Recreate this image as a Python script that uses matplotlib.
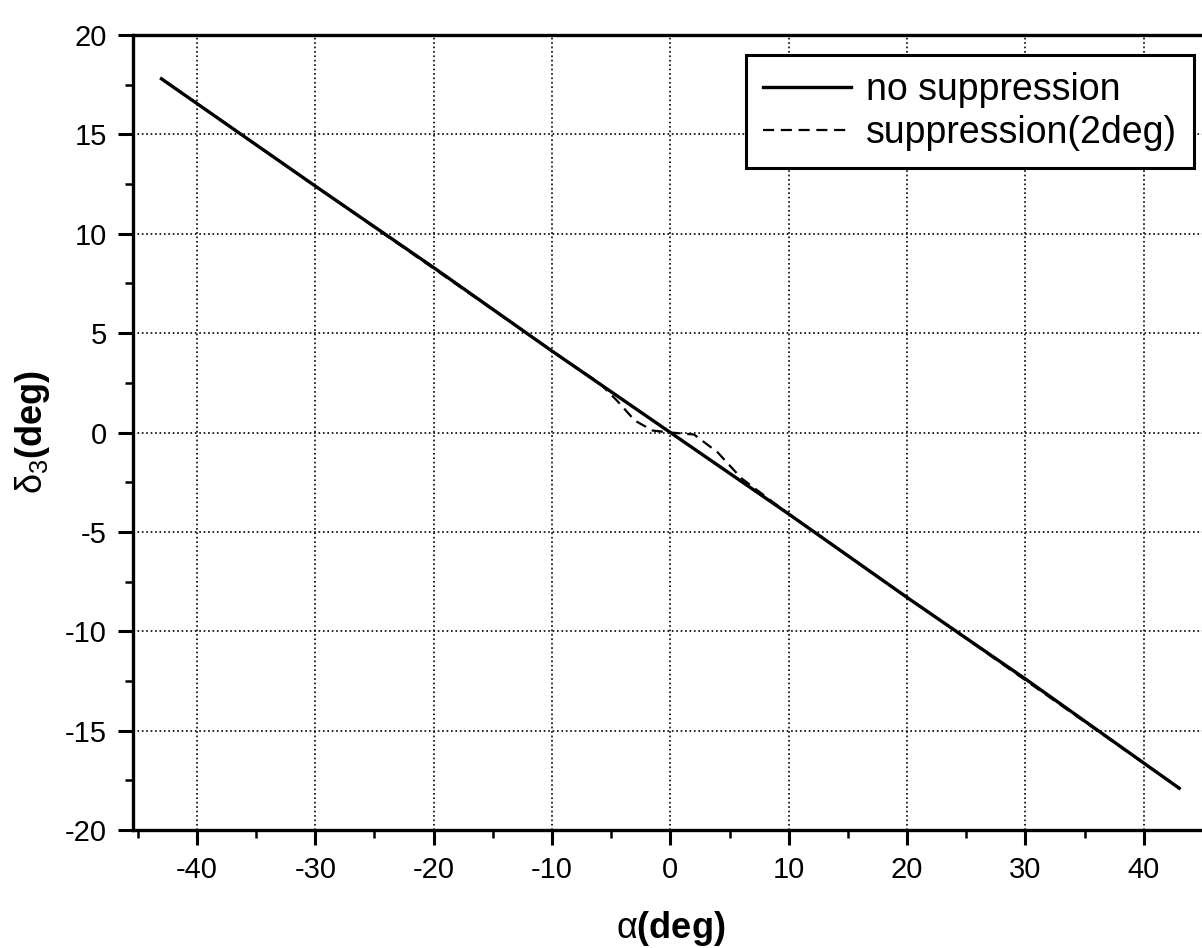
import numpy as np
import matplotlib
matplotlib.use("Agg")
import matplotlib.pyplot as plt
import matplotlib.ticker as tick

plt.rcParams['font.family'] = ['Liberation Sans', 'DejaVu Sans']
plt.rcParams['axes.unicode_minus'] = False
plt.rcParams['mathtext.fontset'] = 'custom'
plt.rcParams['mathtext.rm'] = 'Liberation Sans'
plt.rcParams['mathtext.it'] = 'Liberation Sans'

# no suppression: straight line
x_nosup = [-43, -30, -20, -10, 0, 10, 20, 30, 43]
y_nosup = [17.8, 12.4, 8.3, 4.1, 0.0, -4.1, -8.3, -12.4, -17.9]

# suppression(2deg): follows the solid line except near zero
x_sup = [-43, -10, -6, -4.5, -3, -1.5, 0, 2, 4, 6, 10, 43]
y_sup = [17.8, 4.1, 2.5, 1.6, 0.6, 0.1, 0.0, -0.1, -1.0, -2.3, -4.1, -17.9]

fig = plt.figure(figsize=(12.02, 9.48), dpi=100)
ax = fig.add_axes([0.1107, 0.1245, 0.894, 0.8385])

ax.plot(x_nosup, y_nosup, color='black', lw=2.4, label='no suppression')
ax.plot(x_sup, y_sup, color='black', lw=1.6, ls=(0, (5, 3)), label='suppression(2deg)')

ax.set_xlim(-45.4, 45.4)
ax.set_ylim(-20, 20)
ax.xaxis.set_major_locator(tick.MultipleLocator(10))
ax.xaxis.set_minor_locator(tick.MultipleLocator(5))
ax.yaxis.set_major_locator(tick.MultipleLocator(5))
ax.yaxis.set_minor_locator(tick.MultipleLocator(2.5))
ax.grid(True, which='major', ls=':', color='black', lw=1.2)

ax.tick_params(which='major', direction='out', length=11, width=2.2, labelsize=21)
ax.tick_params(which='minor', direction='out', length=6, width=1.8)
ax.tick_params(axis='x', pad=8)
ax.tick_params(axis='y', pad=8)
ax.spines['right'].set_visible(False)
for s in ['left', 'bottom', 'top']:
    ax.spines[s].set_linewidth(2.4)

ax.set_xlabel(r'$\alpha$(deg)', fontsize=26, fontweight='bold', labelpad=18)
ax.set_ylabel(r'$\delta_3$(deg)', fontsize=26, fontweight='bold', labelpad=9)

leg = ax.legend(loc='upper right', bbox_to_anchor=(0.987, 0.975), fontsize=27,
                frameon=True, fancybox=False, edgecolor='black', framealpha=1,
                handlelength=2.35, handletextpad=0.4, borderpad=0.45,
                labelspacing=0.2, borderaxespad=0)
leg.get_frame().set_linewidth(2.2)

fig.savefig('out.png', dpi=100)
